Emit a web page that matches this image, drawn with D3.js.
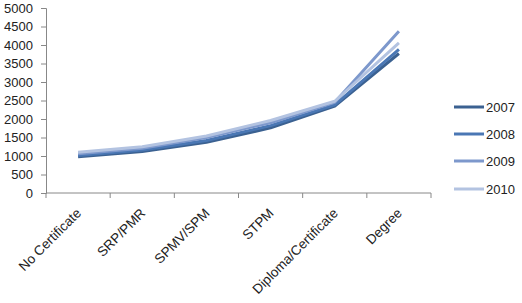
<!DOCTYPE html>
<html>
<head>
<meta charset="utf-8">
<script src="https://cdn.jsdelivr.net/npm/d3@7"></script>
<style>
  body { margin: 0; background: #fff; }
  svg { display: block; font-family: "Liberation Sans", Arial, sans-serif; }
</style>
</head>
<body>
<div id="chart"></div>
<script>
const categories = ["No Certificate", "SRP/PMR", "SPMV/SPM", "STPM", "Diploma/Certificate", "Degree"];
const years = ["2007", "2008", "2009", "2010"];
const values2007 = [980, 1120, 1370, 1760, 2350, 3770];
const values2008 = [1010, 1160, 1420, 1820, 2380, 3880];
const values2009 = [1060, 1210, 1500, 1900, 2450, 4370];
const values2010 = [1100, 1250, 1540, 1960, 2480, 4060];
const yTicks = [0, 500, 1000, 1500, 2000, 2500, 3000, 3500, 4000, 4500, 5000];
const colors = ["#3b6191", "#4a77b4", "#7d98cc", "#b3c3e1"];

const series = years.map((y, i) => ({
  year: y,
  values: [values2007, values2008, values2009, values2010][i],
  color: colors[i]
}));

const width = 522, height = 303;
const margin = { left: 46, right: 91, top: 8, bottom: 110 };

const svg = d3.select("#chart").append("svg")
  .attr("width", width)
  .attr("height", height);

const x = d3.scaleBand()
  .domain(categories)
  .range([margin.left, width - margin.right])
  .paddingInner(0).paddingOuter(0);

const y = d3.scaleLinear()
  .domain([0, 5000])
  .range([height - margin.bottom, margin.top]);

// y axis
const yAxis = svg.append("g")
  .attr("transform", `translate(${margin.left},0)`)
  .call(d3.axisLeft(y).tickValues(yTicks).tickFormat(d3.format("d")).tickSize(5).tickPadding(8));
yAxis.selectAll("text").style("font-size", "13px").attr("fill", "#222");
yAxis.selectAll("line, path").attr("stroke", "#888");

// x axis, ticks on band edges
const xAxis = svg.append("g")
  .attr("transform", `translate(0,${y(0)})`);
xAxis.append("line")
  .attr("x1", x.range()[0]).attr("x2", x.range()[1])
  .attr("stroke", "#888");
const edges = categories.map(c => x(c)).concat([x.range()[1]]);
xAxis.selectAll("line.tick")
  .data(edges)
  .join("line")
    .attr("class", "tick")
    .attr("x1", d => d).attr("x2", d => d)
    .attr("y1", 0).attr("y2", 5)
    .attr("stroke", "#888");
xAxis.selectAll("text")
  .data(categories)
  .join("text")
    .attr("transform", d => `translate(${x(d) + x.bandwidth() / 2 + 4},${21}) rotate(-45)`)
    .attr("text-anchor", "end")
    .style("font-size", "13.5px")
    .attr("fill", "#222")
    .text(d => d);

// lines
const line = d3.line()
  .x((d, i) => x(categories[i]) + x.bandwidth() / 2)
  .y(d => y(d));

svg.append("g").selectAll("path")
  .data(series)
  .join("path")
    .attr("fill", "none")
    .attr("stroke", d => d.color)
    .attr("stroke-width", 3)
    .attr("stroke-linejoin", "round")
    .attr("d", d => line(d.values));

// legend
const legend = svg.append("g");
const legendY = [107, 134, 161, 189];
legend.selectAll("line")
  .data(series)
  .join("line")
    .attr("x1", 454).attr("x2", 484)
    .attr("y1", (d, i) => legendY[i]).attr("y2", (d, i) => legendY[i])
    .attr("stroke", d => d.color)
    .attr("stroke-width", 3);
legend.selectAll("text")
  .data(series)
  .join("text")
    .attr("x", 486)
    .attr("y", (d, i) => legendY[i])
    .attr("dy", "0.35em")
    .style("font-size", "13px")
    .attr("fill", "#222")
    .text(d => d.year);
</script>
</body>
</html>
